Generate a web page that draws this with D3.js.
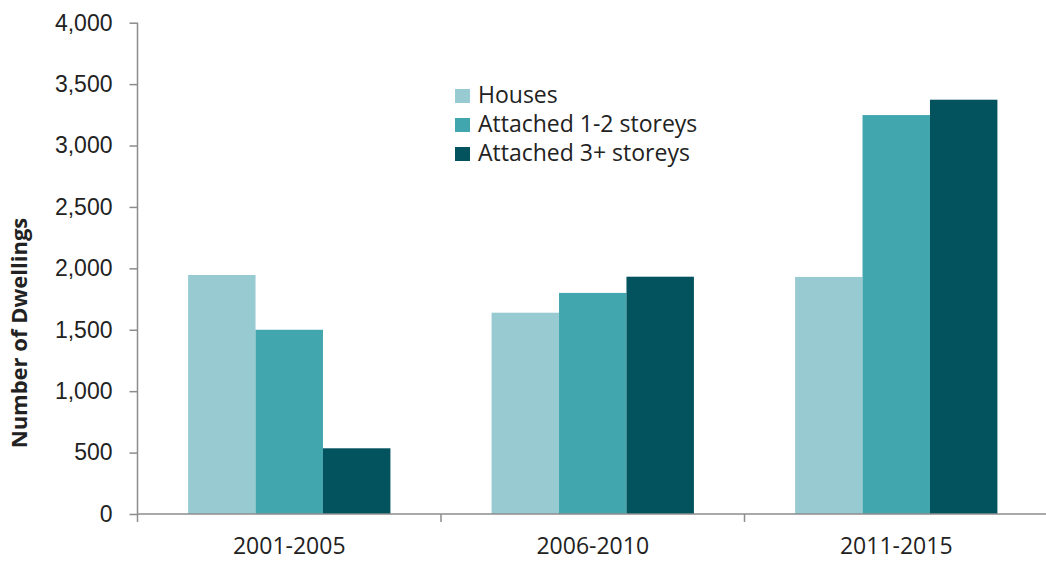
<!DOCTYPE html>
<html>
<head>
<meta charset="utf-8">
<script src="https://cdn.jsdelivr.net/npm/d3@7"></script>
<style>
  html, body { margin: 0; padding: 0; background: #fff; }
  svg { display: block; font-family: "Open Sans", "Noto Sans", sans-serif; }
</style>
</head>
<body>
<svg id="chart" width="1046" height="561"></svg>
<script>
// Dwelling completions by period and dwelling type
const periods = ["2001-2005", "2006-2010", "2011-2015"];
const seriesNames = ["Houses", "Attached 1-2 storeys", "Attached 3+ storeys"];
const houses = [1946, 1639, 1930];
const attached12 = [1500, 1800, 3248];
const attached3 = [535, 1932, 3373];
const yTicks = [0, 500, 1000, 1500, 2000, 2500, 3000, 3500, 4000];
const colors = ["#98cbd1", "#42a6ae", "#03535e"];

const seriesValues = [houses, attached12, attached3];
const rows = periods.map((p, i) => ({
  period: p,
  values: seriesNames.map((s, j) => ({ series: s, value: seriesValues[j][i] }))
}));

const svg = d3.select("#chart");
const margin = { left: 137.5, right: -2, top: 22.7, bottom: 47 };
const W = 1046, H = 561;

const x0 = d3.scaleBand().domain(periods)
  .range([margin.left, W - margin.right])
  .paddingInner(0).paddingOuter(0);
const x1 = d3.scaleBand().domain(seriesNames)
  .range([0, x0.bandwidth()])
  .paddingOuter(0.75).paddingInner(0);
const y = d3.scaleLinear().domain([0, 4000]).range([H - margin.bottom, margin.top]);
const color = d3.scaleOrdinal().domain(seriesNames).range(colors);

// Bars
const groups = svg.append("g").selectAll("g").data(rows).join("g")
  .attr("transform", d => `translate(${x0(d.period)},0)`);
groups.selectAll("rect").data(d => d.values).join("rect")
  .attr("x", d => x1(d.series))
  .attr("width", x1.bandwidth())
  .attr("y", d => y(d.value))
  .attr("height", d => y(0) - y(d.value))
  .attr("fill", d => color(d.series));

// Y axis
const yAxis = svg.append("g")
  .attr("transform", `translate(${margin.left},0)`)
  .call(d3.axisLeft(y).tickValues(yTicks).tickFormat(d3.format(",")).tickSize(8).tickPadding(17));
yAxis.select(".domain").attr("stroke", "#8c8c8c").attr("stroke-width", 1.5)
  .attr("d", `M0,${y(4000)}H0V${y(0)}`);
yAxis.selectAll(".tick line").attr("stroke", "#8c8c8c").attr("stroke-width", 1.5);
yAxis.selectAll(".tick text").attr("fill", "#222").attr("font-size", 23);

// X axis with boundary ticks between periods
const xAxisG = svg.append("g").attr("transform", `translate(0,${y(0)})`);
xAxisG.append("line")
  .attr("x1", margin.left).attr("x2", W)
  .attr("stroke", "#8c8c8c").attr("stroke-width", 1.5);
const boundaries = periods.map(p => x0(p)).concat([x0(periods[periods.length - 1]) + x0.bandwidth()]);
xAxisG.selectAll("line.b").data(boundaries).join("line").attr("class", "b")
  .attr("x1", d => d).attr("x2", d => d).attr("y1", 0).attr("y2", 8)
  .attr("stroke", "#8c8c8c").attr("stroke-width", 1.5);
xAxisG.selectAll("text").data(periods).join("text")
  .attr("x", d => x0(d) + x0.bandwidth() / 2)
  .attr("y", 40)
  .attr("text-anchor", "middle")
  .attr("fill", "#222").attr("font-size", 23)
  .text(d => d);

// Y axis title
svg.append("text")
  .attr("transform", `translate(27,333) rotate(-90)`)
  .attr("text-anchor", "middle")
  .attr("font-weight", "bold").attr("font-size", 22).attr("fill", "#222")
  .text("Number of Dwellings");

// Legend
const legend = svg.append("g").attr("transform", "translate(455,89)");
const items = legend.selectAll("g").data(seriesNames).join("g")
  .attr("transform", (d, i) => `translate(0,${i * 29})`);
items.append("rect").attr("width", 15).attr("height", 14).attr("fill", d => color(d));
items.append("text").attr("x", 23).attr("y", 14)
  .attr("font-size", 23).attr("fill", "#222").text(d => d);
</script>
</body>
</html>
